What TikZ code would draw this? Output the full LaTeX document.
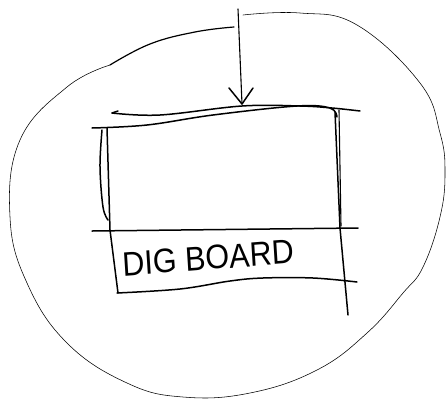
\documentclass[tikz,border=0pt]{standalone}
\usepackage{fontspec}
\setmainfont{Liberation Sans}
\begin{document}
\begin{tikzpicture}[x=1pt,y=-1pt,
  thinpen/.style={line width=0.55pt, line cap=round, line join=round},
  boldpen/.style={line width=1.5pt, line cap=round, line join=round},
  label/.style={font=\fontsize{34}{34}\selectfont, inner sep=0pt, xscale=0.9}]
\useasboundingbox (0,0) rectangle (447,405);
% outer loop (thin)
\draw[thinpen] plot[smooth, tension=0.7] coordinates {
  (243,15) (300,13) (357,25) (420,83) (440,133) (445,173) (440,217)
  (423,267) (403,293) (367,333) (317,370) (250,393) (183,397) (127,383)
  (67,343) (27,283) (10,217) (20,140) (67,87) (110,65)};
% bold arc at top-left
\draw[line width=1.2pt, line cap=round] plot[smooth, tension=0.7] coordinates {
  (110,65) (150,44) (195,32) (234,27)};
% arrow
\coordinate (arrTop) at (238,9);
\coordinate (arrTip) at (242,104);
\draw[boldpen, line width=1.1pt] (arrTop) -- (arrTip);
\draw[boldpen] (229,88) -- (arrTip) -- (253,88);
% top lines of the box
\draw[boldpen] plot[smooth, tension=0.6] coordinates {
  (112,113) (160,115) (242,106) (300,106) (332,108) (360,111)};
\draw[boldpen] (112,113) -- (118,111);
\draw[boldpen] plot[smooth, tension=0.6] coordinates {
  (92,128) (147,125) (213,115) (297,106) (330,108) (337,117)};
% left side
\draw[boldpen] plot[smooth, tension=0.6] coordinates {
  (102,130) (100,167) (103,207) (108,220)};
\draw[boldpen] (107,128) -- (110,230) -- (118,293);
% right side
\draw[boldpen] (335,112) -- (340,228) -- (348,315);
\draw[boldpen, line width=1.1pt] (339,110) -- (341,226);
% middle line
\draw[boldpen] (92,231) -- (358,228);
% bottom line
\draw[boldpen] plot[smooth, tension=0.6] coordinates {
  (117,293) (180,289) (230,281) (263,278) (313,278) (357,282)};
% label
\node[label, rotate=4] (lbl) at (208,258) {DIG BOARD};
\end{tikzpicture}
\end{document}
